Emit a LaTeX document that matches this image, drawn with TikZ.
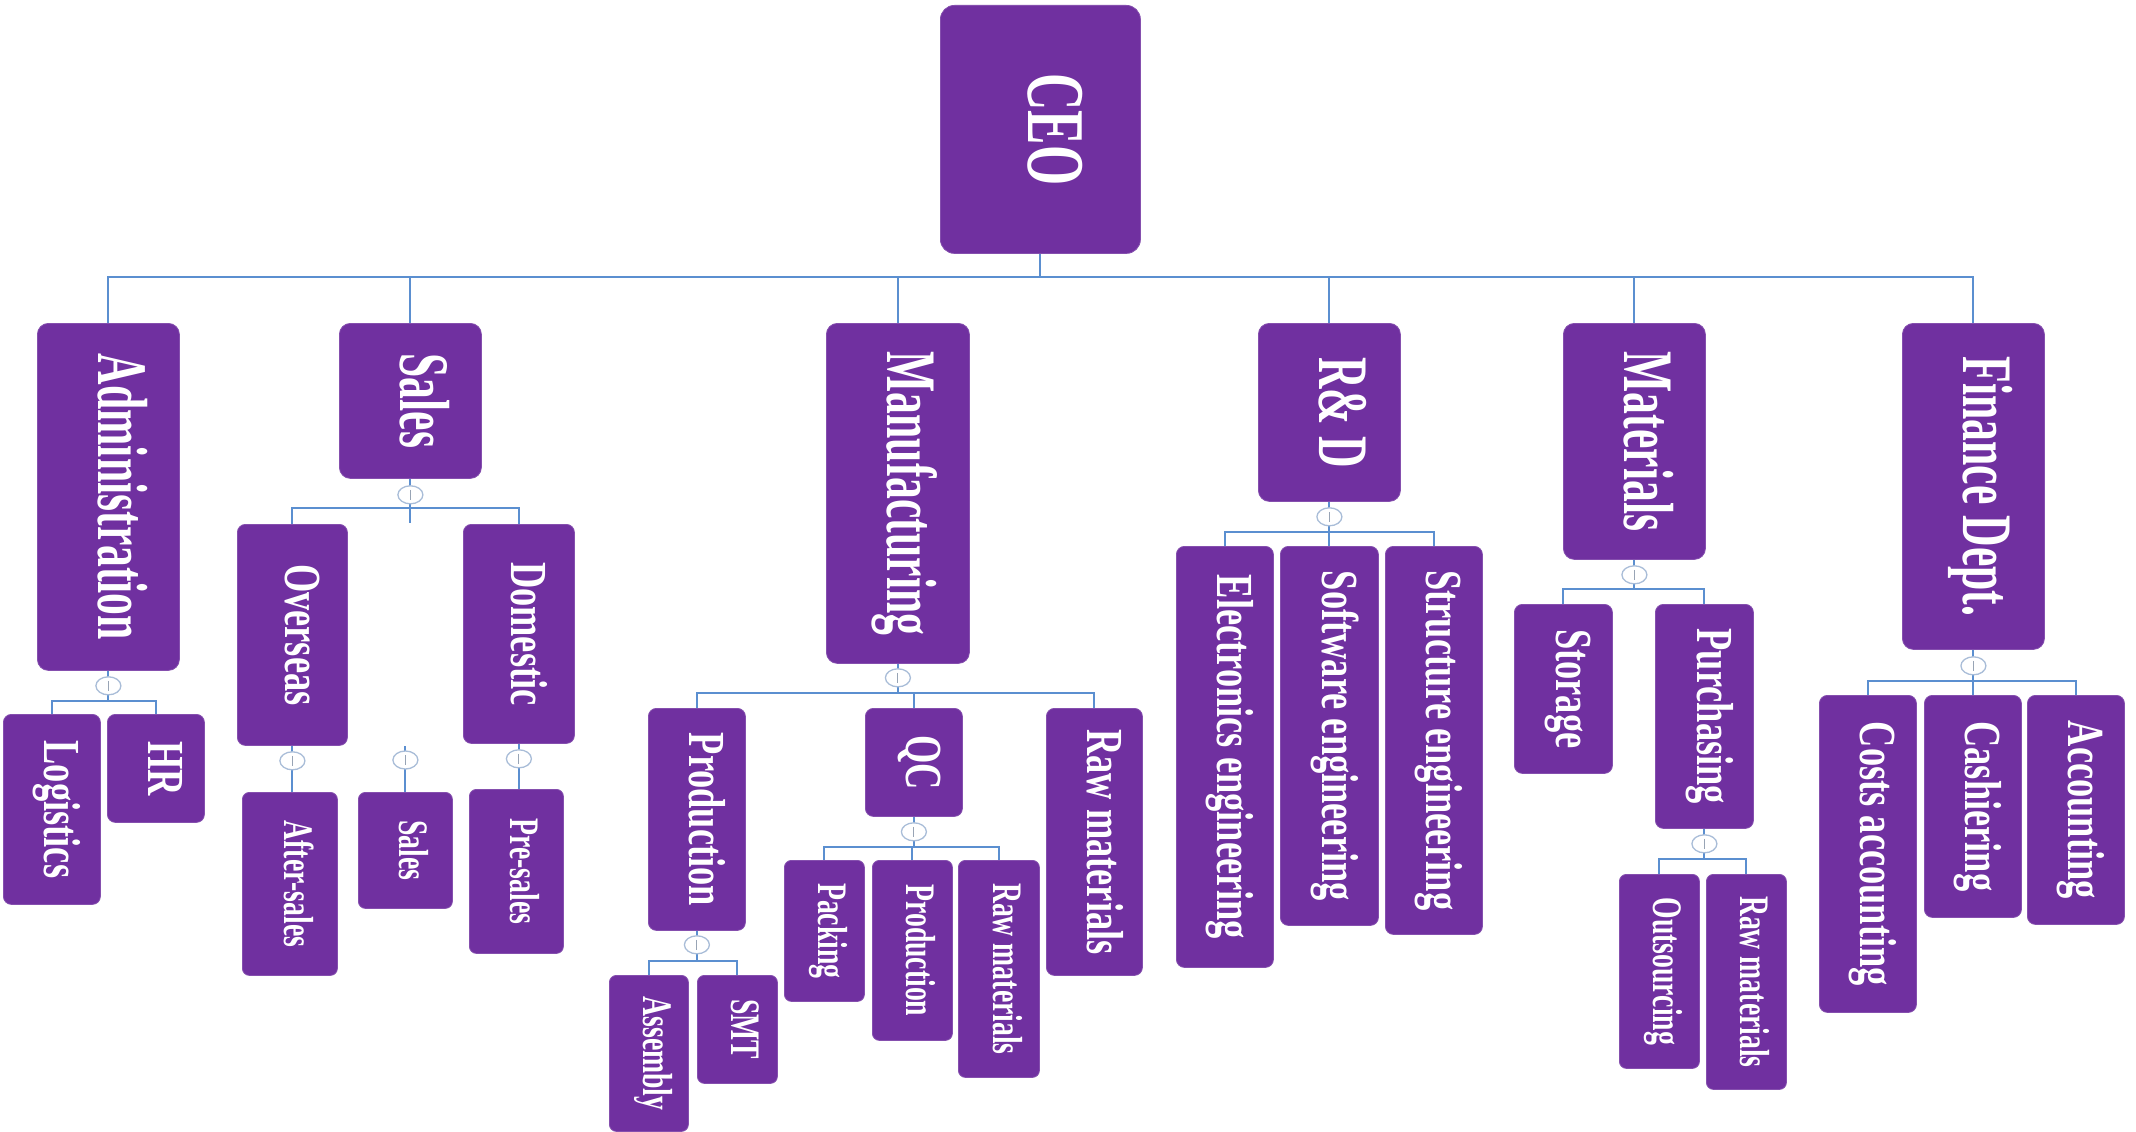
\documentclass[tikz,border=0pt]{standalone}
\usepackage{fontspec}
\setmainfont{Liberation Serif}
\usepackage{graphicx}
\usetikzlibrary{calc,shapes.geometric}
\definecolor{boxc}{HTML}{7030A0}
\definecolor{linec}{HTML}{5B8FD0}
\definecolor{togc}{HTML}{A9BDD8}
\newcommand\tstr{\rule[-0.52em]{0pt}{1.32em}}
\newcommand\levz[1]{\rotatebox{-90}{\scalebox{0.63}[1]{\fontsize{82}{82}\selectfont\bfseries\tstr #1}}}
\newcommand\leva[1]{\rotatebox{-90}{\scalebox{0.615}[1]{\fontsize{71}{71}\selectfont\bfseries\tstr #1}}}
\newcommand\levb[1]{\rotatebox{-90}{\scalebox{0.70}[1]{\fontsize{52}{52}\selectfont\bfseries\tstr #1}}}
\newcommand\levc[1]{\rotatebox{-90}{\scalebox{0.66}[1]{\fontsize{42}{42}\selectfont\bfseries\tstr #1}}}
\tikzset{
  box/.style={rectangle, fill=boxc, draw=boxc!85!white, line width=0.8pt, text=white,
    inner sep=0pt, anchor=north west},
  bz/.style={box, rounded corners=14pt},
  ba/.style={box, rounded corners=11pt},
  bb/.style={box, rounded corners=8pt},
  bc/.style={box, rounded corners=7pt},
  conn/.style={draw=linec, line width=2pt},
  tog/.style={ellipse, draw=togc, fill=white, line width=1.3pt, minimum width=25pt,
    minimum height=18pt, inner sep=0pt,
    path picture={\draw[togc!60!gray, line width=1pt]
      ([yshift=-4pt]path picture bounding box.north) -- ([yshift=4pt]path picture bounding box.south);}}
}
\begin{document}
\begin{tikzpicture}[x=1pt,y=-1pt]
\fill[white] (0,0) rectangle (2136,1132);
\useasboundingbox (0,0) rectangle (2136,1132);

% ---- boxes ----
\node[bz, minimum width=200pt, minimum height=248pt] (ceo) at (940,5) {\levz{CEO}};

\node[ba, minimum width=142pt, minimum height=347pt] (adm) at (37,323) {\leva{Administration}};
\node[ba, minimum width=142pt, minimum height=155pt] (sal) at (339,323) {\leva{Sales}};
\node[ba, minimum width=143pt, minimum height=340pt] (man) at (826,323) {\leva{Manufacturing}};
\node[ba, minimum width=142pt, minimum height=178pt] (rnd) at (1258,323) {\leva{R\& D}};
\node[ba, minimum width=142pt, minimum height=236pt] (mat) at (1563,323) {\leva{Materials}};
\node[ba, minimum width=142pt, minimum height=326pt] (fin) at (1902,323) {\leva{Finance Dept.}};

\node[bb, minimum width=97pt, minimum height=190pt] (log) at (3,714) {\levb{Logistics}};
\node[bb, minimum width=97pt, minimum height=108pt] (hr) at (107,714) {\levb{HR}};

\node[bb, minimum width=110pt, minimum height=221pt] (ovs) at (237,524) {\levb{Overseas}};
\node[bb, minimum width=111pt, minimum height=219pt] (dom) at (463,524) {\levb{Domestic}};
\node[bc, minimum width=95pt, minimum height=183pt] (aft) at (242,792) {\levc{After-sales}};
\node[bc, minimum width=94pt, minimum height=116pt] (sml) at (358,792) {\levc{Sales}};
\node[bc, minimum width=94pt, minimum height=164pt] (pre) at (469,789) {\levc{Pre-sales}};

\node[bb, minimum width=97pt, minimum height=222pt] (prd) at (648,708) {\levb{Production}};
\node[bb, minimum width=97pt, minimum height=108pt] (qc) at (865,708) {\levb{QC}};
\node[bb, minimum width=96pt, minimum height=267pt] (rm1) at (1046,708) {\levb{Raw materials}};
\node[bc, minimum width=79pt, minimum height=156pt] (asm) at (609,975) {\levc{Assembly}};
\node[bc, minimum width=80pt, minimum height=108pt] (smt) at (697,975) {\levc{SMT}};
\node[bc, minimum width=80pt, minimum height=141pt] (pck) at (784,860) {\levc{Packing}};
\node[bc, minimum width=80pt, minimum height=180pt] (pqc) at (872,860) {\levc{Production}};
\node[bc, minimum width=81pt, minimum height=217pt] (rqc) at (958,860) {\levc{Raw materials}};

\node[bb, minimum width=97pt, minimum height=421pt] (ele) at (1176,546) {\levb{Electronics engineering}};
\node[bb, minimum width=98pt, minimum height=379pt] (sof) at (1280,546) {\levb{Software engineering}};
\node[bb, minimum width=97pt, minimum height=388pt] (str) at (1385,546) {\levb{Structure engineering}};

\node[bb, minimum width=98pt, minimum height=169pt] (sto) at (1514,604) {\levb{Storage}};
\node[bb, minimum width=98pt, minimum height=224pt] (pur) at (1655,604) {\levb{Purchasing}};
\node[bc, minimum width=80pt, minimum height=194pt] (out) at (1619,874) {\levc{Outsourcing}};
\node[bc, minimum width=80pt, minimum height=215pt] (rmp) at (1706,874) {\levc{Raw materials}};

\node[bb, minimum width=97pt, minimum height=317pt] (cst) at (1819,695) {\levb{Costs accounting}};
\node[bb, minimum width=97pt, minimum height=222pt] (csh) at (1924,695) {\levb{Cashiering}};
\node[bb, minimum width=97pt, minimum height=229pt] (acc) at (2027,695) {\levb{Accounting}};

% ---- connectors: CEO level ----
\coordinate (ceoB) at ($(ceo.south)+(0,23)$);
\draw[conn] (ceo.south) -- (ceoB);
\foreach \c in {adm,sal,man,rnd,mat,fin} \draw[conn] (\c.north) |- (ceoB);

% ---- Administration ----
\coordinate (admB) at ($(adm.south)+(0,30)$);
\draw[conn] (adm.south) -- (admB);
\foreach \c in {log,hr} \draw[conn] (\c.north) |- (admB);
\node[tog] (admT) at ($(adm.south)+(0,15)$) {};

% ---- Sales ----
\coordinate (salB) at ($(sal.south)+(0,29)$);
\coordinate (hidT) at ($(sal.south)+(0,44)$);
\draw[conn] (sal.south) -- (hidT);
\foreach \c in {ovs,dom} \draw[conn] (\c.north) |- (salB);
\node[tog] (salT) at ($(sal.south)+(0,16)$) {};
\path (sml.north) ++(0,-46) coordinate (hidB);
\draw[conn] (hidB) -- (sml.north);
\node[tog] (hidTg) at ($(hidB)+(0,14)$) {};
\draw[conn] (ovs.south) -- (ovs.south |- aft.north);
\node[tog] (ovsT) at ($(ovs.south)+(0,15)$) {};
\draw[conn] (dom.south) -- (dom.south |- pre.north);
\node[tog] (domT) at ($(dom.south)+(0,15)$) {};

% ---- Manufacturing ----
\coordinate (manB) at ($(man.south)+(0,29)$);
\draw[conn] (man.south) -- (manB);
\foreach \c in {prd,qc,rm1} \draw[conn] (\c.north) |- (manB);
\node[tog] (manT) at ($(man.south)+(0,14)$) {};

\coordinate (prdB) at ($(prd.south)+(0,30)$);
\draw[conn] (prd.south) -- (prdB);
\foreach \c in {asm,smt} \draw[conn] (\c.north) |- (prdB);
\node[tog] (prdT) at ($(prd.south)+(0,14)$) {};

\coordinate (qcB) at ($(qc.south)+(0,30)$);
\draw[conn] (qc.south) -- (qcB);
\foreach \c in {pck,pqc,rqc} \draw[conn] (\c.north) |- (qcB);
\node[tog] (qcT) at ($(qc.south)+(0,15)$) {};

% ---- R&D ----
\coordinate (rndB) at ($(rnd.south)+(0,30)$);
\draw[conn] (rnd.south) -- (rndB);
\foreach \c in {ele,sof,str} \draw[conn] (\c.north) |- (rndB);
\node[tog] (rndT) at ($(rnd.south)+(0,15)$) {};

% ---- Materials ----
\coordinate (matB) at ($(mat.south)+(0,29)$);
\draw[conn] (mat.south) -- (matB);
\foreach \c in {sto,pur} \draw[conn] (\c.north) |- (matB);
\node[tog] (matT) at ($(mat.south)+(0,15)$) {};

\coordinate (purB) at ($(pur.south)+(0,30)$);
\draw[conn] (pur.south) -- (purB);
\foreach \c in {out,rmp} \draw[conn] (\c.north) |- (purB);
\node[tog] (purT) at ($(pur.south)+(0,15)$) {};

% ---- Finance ----
\coordinate (finB) at ($(fin.south)+(0,31)$);
\draw[conn] (fin.south) -- (finB);
\foreach \c in {cst,csh,acc} \draw[conn] (\c.north) |- (finB);
\node[tog] (finT) at ($(fin.south)+(0,16)$) {};
\end{tikzpicture}
\end{document}
